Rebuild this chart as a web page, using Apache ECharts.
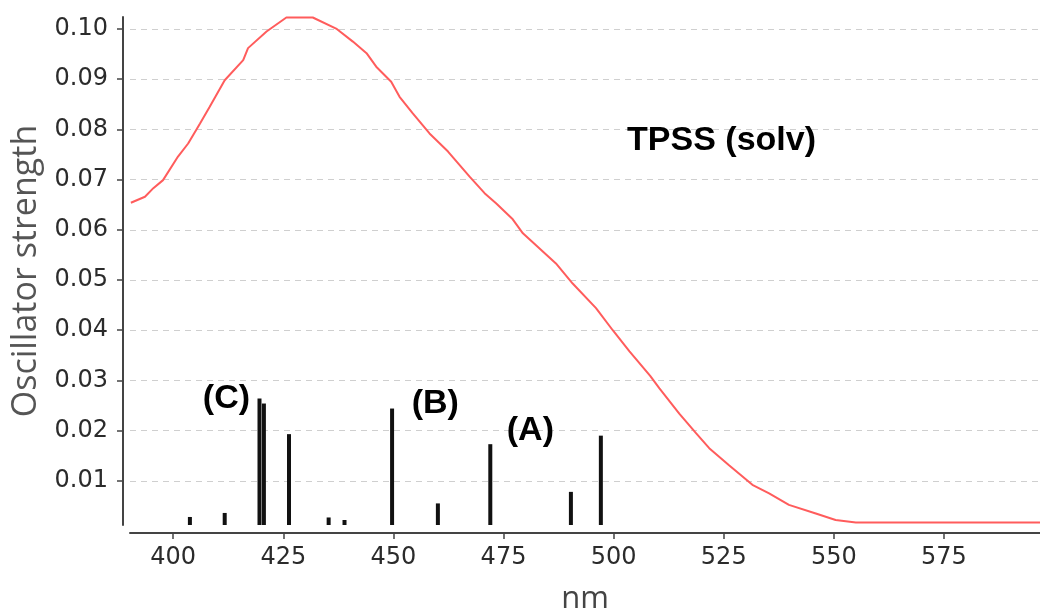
<!DOCTYPE html>
<html>
<head>
<meta charset="utf-8">
<script src="https://cdn.jsdelivr.net/npm/echarts@6/dist/echarts.min.js"></script>
<style>html,body{margin:0;padding:0;background:#fff}#c{width:1040px;height:612px}</style>
</head>
<body>
<div id="c"></div>
<script>
// Axis ticks
var xTicks = [400, 425, 450, 475, 500, 525, 550, 575];
var yTicks = [0.01, 0.02, 0.03, 0.04, 0.05, 0.06, 0.07, 0.08, 0.09, 0.10];

// Stick spectrum: wavelength (nm) and oscillator strength
var stickNm = [403.8, 411.7, 419.6, 420.6, 426.3, 435.3, 438.9, 449.7, 460.1, 472.0, 490.3, 497.1];
var stickF  = [0.0028, 0.0036, 0.0264, 0.0254, 0.0193, 0.0027, 0.0022, 0.0244, 0.0055, 0.0173, 0.0078, 0.0190];

// Broadened spectrum curve
var curveNm = [390.4, 393.6, 395.5, 397.7, 401.1, 403.4, 406.1, 408.3, 411.7, 415.9, 417.0, 421.2, 425.7, 431.7,
  437.0, 440.8, 443.9, 446.1, 449.5, 451.4, 454.4, 458.2, 462.4, 467.3, 470.7, 473.3, 477.1, 479.4, 486.9,
  490.7, 496.0, 499.8, 503.6, 508.3, 510.4, 514.9, 518.7, 521.7, 526.2, 531.5, 535.3, 539.8, 545.9, 550.4,
  555.0, 596.8];
var curveF = [0.0654, 0.0666, 0.0683, 0.0699, 0.0746, 0.0772, 0.0812, 0.0845, 0.0898, 0.0938, 0.0962, 0.0995, 0.1023, 0.1023,
  0.1001, 0.0975, 0.0952, 0.0925, 0.0895, 0.0865, 0.0832, 0.0792, 0.0756, 0.0706, 0.0673, 0.0653, 0.0621, 0.0593, 0.0533,
  0.0493, 0.0444, 0.0400, 0.0358, 0.0309, 0.0284, 0.0234, 0.0195, 0.0165, 0.0131, 0.0092, 0.0075, 0.0052, 0.0035, 0.0022,
  0.0017, 0.0017];

// Annotations
var noteText = ['(C)', '(B)', '(A)', 'TPSS (solv)'];
var noteNm   = [412.1, 459.5, 481.1, 524.5];
var noteF    = [0.0263, 0.0253, 0.0201, 0.0777];

var chart = echarts.init(document.getElementById('c'), null, {renderer: 'canvas'});
chart.setOption({
  backgroundColor: '#ffffff',
  animation: false,
  grid: {left: 130, right: 0, top: 17, bottom: 87, containLabel: false, outerBoundsMode: 'none'},
  xAxis: {
    type: 'value', min: 390.2, max: 596.8, offset: 8,
    axisLine: {onZero: false, lineStyle: {color: '#444', width: 2}},
    axisTick: {show: true, customValues: xTicks, length: 6, lineStyle: {color: '#444', width: 1.5}},
    axisLabel: {customValues: xTicks, fontSize: 24, fontFamily: 'DejaVu Sans', color: '#2b2b2b', margin: 13},
    splitLine: {show: false},
    name: 'nm', nameLocation: 'middle', nameGap: 51,
    nameTextStyle: {fontSize: 31, fontFamily: 'Open Sans', color: '#444'}
  },
  yAxis: {
    type: 'value', min: 0.0012, max: 0.1024, offset: 7,
    axisLine: {show: true, onZero: false, lineStyle: {color: '#444', width: 2}},
    axisTick: {show: true, customValues: yTicks, length: 6, lineStyle: {color: '#444', width: 1.5}},
    axisLabel: {customValues: yTicks, fontSize: 24, fontFamily: 'DejaVu Sans', color: '#2b2b2b', margin: 15,
      formatter: function (v) { return v.toFixed(2); }},
    splitLine: {show: false},
    name: 'Oscillator strength', nameLocation: 'middle', nameGap: 78, nameRotate: 90,
    nameTextStyle: {fontSize: 34, fontFamily: 'Open Sans', color: '#555'}
  },
  series: [
    {
      type: 'bar', barWidth: 4, silent: true, z: 3,
      itemStyle: {color: '#111'},
      data: stickNm.map(function (x, i) { return [x, stickF[i]]; }),
      markLine: {
        silent: true, symbol: 'none', label: {show: false}, z: 1,
        lineStyle: {type: [6, 5], color: '#cfcfcf', width: 1},
        data: yTicks.map(function (v) { return {yAxis: v}; })
      }
    },
    {
      type: 'line', showSymbol: false, silent: true, smooth: false, z: 4,
      lineStyle: {color: '#ff5c5c', width: 2},
      data: curveNm.map(function (x, i) { return [x, curveF[i]]; })
    },
    {
      type: 'scatter', symbolSize: 0, silent: true, z: 10,
      itemStyle: {opacity: 1, color: '#000'},
      label: {show: true, position: 'inside', color: '#000', opacity: 1, textBorderWidth: 0,
        fontWeight: 'bold', fontSize: 34, fontFamily: 'Liberation Sans',
        formatter: function (p) { return p.name; }},
      data: noteText.map(function (t, i) { return {name: t, value: [noteNm[i], noteF[i]]}; })
    }
  ]
});
</script>
</body>
</html>
